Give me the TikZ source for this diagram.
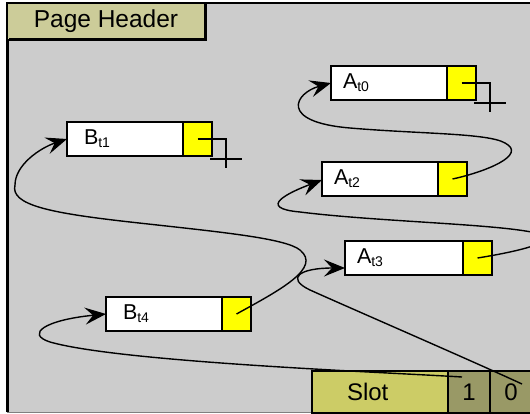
\documentclass[tikz,border=0pt]{standalone}
\usepackage{fontspec}
\setmainfont{Liberation Sans}
\usetikzlibrary{arrows.meta}
\definecolor{bg}{HTML}{CCCCCC}
\definecolor{hdrc}{HTML}{CCCC99}
\definecolor{slotc}{HTML}{CCCC66}
\definecolor{cellc}{HTML}{999966}
\definecolor{ylw}{HTML}{FFFF00}
\newcommand\mysub[1]{\raisebox{-3pt}{\fontsize{14}{14}\selectfont #1}}
\begin{document}
\begin{tikzpicture}[x=1pt,y=-1pt,
  rec/.style={draw, line width=2pt, inner sep=0pt, outer sep=0pt, anchor=north west, minimum height=34pt},
  wbox/.style={rec, fill=white, minimum width=116pt, text width=92pt, inner xsep=12pt, align=left, font=\fontsize{21.5}{23}\selectfont},
  bbox/.style={wbox, text width=82pt, inner xsep=17pt},
  ybox/.style={rec, fill=ylw, minimum width=29pt},
  link/.style={line width=1.4pt, -{Stealth[length=21pt,width=17pt,inset=8pt]}},
  nil/.style={line width=2pt},
  cell/.style={draw, line width=2pt, fill=cellc, inner sep=0pt, outer sep=0pt, anchor=north west, minimum width=42pt, minimum height=42pt, font=\fontsize{24}{25}\selectfont}
]
\useasboundingbox (0,0) rectangle (530,414);
\clip (0,0) rectangle (530,414);
% page
\fill[bg] (7,3) rectangle (530,412);
\draw[line width=1.5pt] (7,3) -- (530,3);
\draw[line width=3pt] (7,3) -- (7,412);
\draw[line width=1.5pt, gray] (7,412.5) -- (530,412.5);
% header
\node[draw, line width=2pt, fill=hdrc, inner sep=0pt, outer sep=0pt, anchor=north west, minimum width=198pt, minimum height=37pt, font=\fontsize{24.5}{26}\selectfont] (hdr) at (7,3) {Page Header};
\draw[line width=3pt] (hdr.north east) -- (hdr.south east) -- ([xshift=2pt]hdr.south west);
% records
\node[wbox] (At0) at (331,66) {A\mysub{t0}};
\node[ybox] (At0p) at (At0.north east) {};
\node[bbox] (Bt1) at (67,122) {B\mysub{t1}};
\node[ybox] (Bt1p) at (Bt1.north east) {};
\node[wbox] (At2) at (322,162) {A\mysub{t2}};
\node[ybox] (At2p) at (At2.north east) {};
\node[wbox, minimum width=118pt, text width=94pt] (At3) at (345,241) {A\mysub{t3}};
\node[ybox] (At3p) at (At3.north east) {};
\node[bbox] (Bt4) at (106,297) {B\mysub{t4}};
\node[ybox] (Bt4p) at (Bt4.north east) {};
% slot array
\node[draw, line width=2pt, fill=slotc, outer sep=0pt, anchor=north west, minimum width=136pt, minimum height=42pt, inner ysep=0pt, inner xsep=35pt, text width=66pt, align=left, font=\fontsize{24}{25}\selectfont] (slot) at (312,371) {Slot};
\node[cell] (c1) at (slot.north east) {1};
\node[cell] (c0) at (c1.north east) {0};
% null pointers
\draw[nil] (Bt1p.center) -| ([xshift=14pt,yshift=-12pt]Bt1p.south east);
\draw[nil] ([xshift=-2pt,yshift=-3pt]Bt1p.south east) -- ([xshift=30pt,yshift=-3pt]Bt1p.south east);
\draw[nil] (At0p.center) -| ([xshift=14pt,yshift=-12pt]At0p.south east);
\draw[nil] ([xshift=-2pt,yshift=-3pt]At0p.south east) -- ([xshift=30pt,yshift=-3pt]At0p.south east);
% links
\draw[link] (At2p.center) .. controls (485,172) and (528,155) .. (505,143)
  .. controls (488,133) and (420,134) .. (350,128)
  .. controls (278,122) and (295,93) .. (At0.west);
\draw[link] (At3p.center) .. controls (515,252) and (560,242) .. (540,234)
  .. controls (505,224) and (380,222) .. (300,212)
  .. controls (255,208) and (290,192) .. ([yshift=-1pt]At2.west);
\draw[link] (Bt4p.center) .. controls (280,290) and (322,268) .. (300,250)
  .. controls (285,238) and (220,232) .. (130,222)
  .. controls (50,213) and (10,205) .. (15,185)
  .. controls (15,165) and (40,148) .. (Bt1.west);
\draw[link] ([xshift=-7pt,yshift=15pt]c1.center) .. controls (380,372) and (120,362) .. (50,342)
  .. controls (25,334) and (45,320) .. (Bt4.west);
\draw[link] ([xshift=11pt,yshift=8pt]c0.center) .. controls (470,360) and (350,308) .. (310,290)
  .. controls (285,278) and (300,268) .. ([yshift=-10pt]At3.west);
\end{tikzpicture}
\end{document}
